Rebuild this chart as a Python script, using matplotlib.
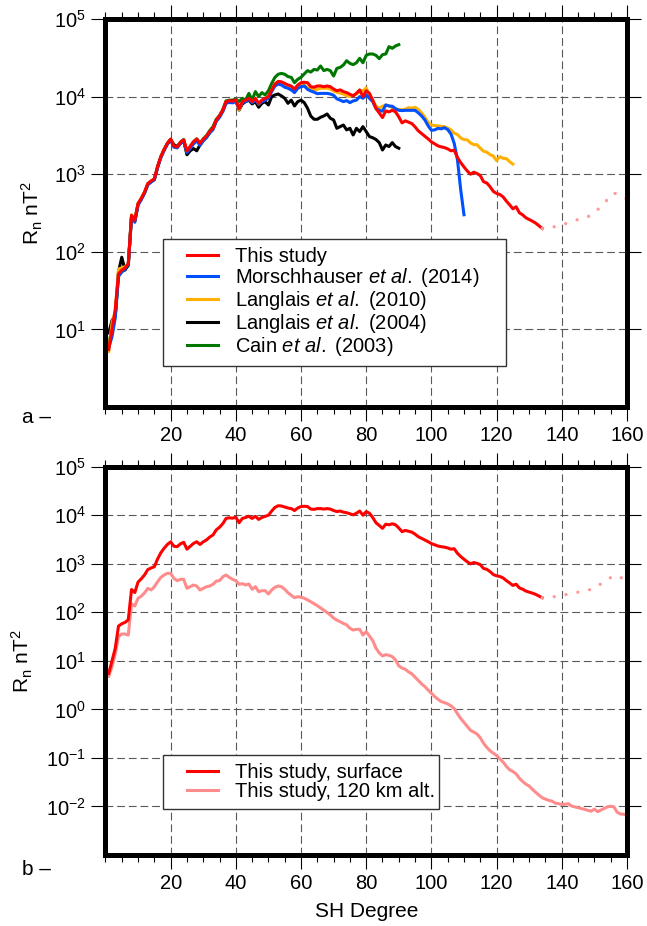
import numpy as np
import matplotlib
matplotlib.use('Agg')
import matplotlib.pyplot as plt
from matplotlib.patches import Rectangle
from matplotlib.lines import Line2D
from matplotlib.ticker import MultipleLocator, NullLocator

plt.rcParams['font.family'] = ['Liberation Sans', 'DejaVu Sans']
plt.rcParams['mathtext.fontset'] = 'custom'
plt.rcParams['mathtext.rm'] = 'Liberation Sans'
plt.rcParams['mathtext.it'] = 'Liberation Sans:italic'

# power spectra R_n (nT^2) per SH degree, starting at degree 1
this_study = [5.5, 10, 18, 52, 58, 62, 70, 295, 255, 420,
              490, 590, 760, 820, 870, 1260, 1690, 2090, 2500, 2830,
              2300, 2250, 2570, 2770, 2000, 2290, 2620, 2840, 2500, 2830,
              3100, 3560, 3920, 5000, 5650, 6700, 8600, 8850, 8700, 9070,
              7000, 8600, 9000, 9500, 8600, 9500, 8200, 9000, 9500, 10000,
              12200, 14500, 15700, 15500, 14800, 14100, 13700, 12500, 14100, 15100,
              15300, 15100, 13400, 13200, 13700, 13700, 13400, 13700, 13400, 12500,
              11900, 12200, 11600, 11250, 10700, 10200, 11000, 12200, 10000, 11900,
              11000, 8980, 7000, 6160, 5370, 6540, 6350, 6670, 6350, 5470,
              4580, 4870, 4680, 4490, 4070, 3610, 3340, 3090, 2850, 2610,
              2460, 2320, 2250, 2200, 2120, 2000, 2040, 1640, 1410, 1240,
              1100, 1000, 1060, 1020, 960, 800, 770, 690, 600, 565,
              547, 510, 450, 403, 358, 380, 318, 299, 274, 261,
              248, 234, 216, 200]

# dotted (unreliable) continuation of this study
ext_deg = [134, 136, 138, 140, 142, 144, 146, 148, 150, 152, 154, 156, 158, 160]
ext_val = [200, 205, 211, 220, 238, 254, 266, 283, 315, 385, 470, 575, 520, 480]

morschhauser = [5.8, 8, 14, 48, 55, 60, 68, 280, 240, 400,
                470, 570, 730, 790, 850, 1220, 1640, 2030, 2430, 2750,
                2230, 2180, 2480, 2650, 1900, 2150, 2450, 2700, 2350, 2700,
                2950, 3400, 3750, 4800, 5400, 6400, 8200, 8400, 8300, 8600,
                7070, 8350, 8600, 9230, 8350, 9000, 8040, 8600, 9000, 9500,
                11600, 13700, 14500, 14100, 13200, 12800, 12200, 11250, 12800, 13400,
                13700, 12400, 11800, 11400, 10900, 11000, 11000, 11000, 10800, 10400,
                9350, 9000, 8600, 8870, 8350, 8800, 9000, 10000, 9500, 10500,
                9500, 8600, 7070, 6650, 6480, 7800, 7570, 7500, 7000, 6650,
                6600, 6650, 6650, 6650, 6650, 6160, 5630, 5000, 4200, 3680,
                3720, 3900, 3840, 3970, 3760, 3300, 2500, 1530, 627, 300]

langlais2010 = [5.2, 12, 17, 60, 62, 64, 70, 300, 260, 420,
                490, 590, 750, 810, 860, 1250, 1680, 2080, 2480, 2800,
                2280, 2220, 2550, 2750, 1950, 2200, 2500, 2800, 2450, 2750,
                3050, 3500, 3850, 4900, 5550, 6600, 8400, 8700, 8600, 9000,
                6800, 8400, 8800, 9300, 8500, 9300, 8000, 8800, 9300, 9800,
                12000, 14500, 15000, 14800, 14100, 13400, 13000, 12000, 13400, 14500,
                14100, 13000, 12500, 12200, 12400, 12800, 12800, 12800, 12500, 11800,
                11400, 11100, 10800, 10200, 10100, 10400, 10800, 11600, 11900, 12900,
                10200, 9000, 7570, 7080, 7500, 7800, 7570, 7200, 6820, 6860,
                6730, 6860, 7200, 7080, 7280, 6820, 6160, 5410, 4670, 4300,
                4230, 4200, 4130, 4100, 3930, 3720, 3380, 3240, 2930, 2790,
                2770, 2530, 2400, 2400, 2160, 1980, 1920, 1790, 1710, 1500,
                1680, 1600, 1590, 1450, 1350]

langlais2004 = [9, 13, 15, 55, 85, 58, 68, 290, 250, 410,
                480, 580, 740, 800, 850, 1240, 1660, 2060, 2480, 2800,
                2400, 2280, 2500, 2700, 1780, 2000, 2140, 2000, 2380, 2700,
                3000, 3450, 3900, 4950, 5600, 6600, 8500, 8700, 8800, 9000,
                6700, 8040, 8600, 9000, 8040, 8600, 7280, 8190, 8600, 7800,
                10000, 10500, 10800, 10200, 9500, 8190, 9000, 7570, 8600, 9000,
                8350, 7070, 5600, 5100, 5100, 5410, 5630, 5970, 5250, 5000,
                3900, 4100, 4300, 3720, 3900, 3200, 3900, 3540, 4100, 3540,
                3050, 2950, 2800, 2550, 2050, 2380, 2270, 2550, 2270, 2160]

cain2003 = [6, 11, 15, 50, 55, 60, 66, 285, 250, 410,
            480, 580, 750, 810, 860, 1250, 1680, 2080, 2500, 2820,
            2300, 2250, 2600, 2800, 1900, 2250, 2600, 2850, 2500, 2850,
            3150, 3650, 4100, 5100, 5700, 6800, 8800, 9000, 9000, 9300,
            8600, 9500, 9000, 11000, 9000, 11600, 10000, 11250, 10500, 11900,
            14800, 17700, 19400, 19900, 19400, 18100, 17700, 15100, 16700, 17700,
            19600, 21600, 20700, 22400, 22000, 24800, 21600, 22400, 21600, 18400,
            23100, 23800, 25500, 29000, 26800, 25800, 27300, 31100, 27300, 34000,
            35400, 35400, 34000, 30800, 34700, 35400, 44000, 41900, 44900, 46700]

alt120 = [4.8, 7.6, 14, 31.6, 35.7, 35.7, 34, 150, 135, 195,
          215, 252, 312, 288, 337, 427, 525, 587, 635, 635,
          500, 449, 478, 478, 312, 337, 365, 348, 288, 312,
          337, 348, 378, 440, 449, 540, 587, 525, 478, 449,
          378, 389, 366, 383, 298, 337, 266, 279, 279, 238,
          288, 327, 348, 337, 298, 253, 224, 200, 210, 205,
          195, 180, 165, 150, 137, 123, 110, 99, 88, 76,
          69, 64, 59, 55, 47, 43, 44.6, 44.6, 34, 40,
          32.4, 26.2, 18.2, 14.6, 12.6, 13.4, 13, 12.2, 10.4, 7.9,
          7.1, 6.7, 5.9, 5.4, 4.6, 3.9, 3.35, 2.95, 2.5, 2.15,
          1.84, 1.62, 1.45, 1.38, 1.30, 1.18, 1.04, 0.81, 0.65, 0.54,
          0.45, 0.37, 0.34, 0.31, 0.26, 0.20, 0.165, 0.14, 0.125, 0.112,
          0.096, 0.082, 0.067, 0.057, 0.0525, 0.047, 0.038, 0.0327, 0.0288, 0.0263,
          0.0225, 0.0195, 0.0171, 0.0151, 0.0142, 0.0133, 0.0129, 0.0117, 0.0114, 0.011,
          0.0111, 0.0114, 0.0102, 0.0098, 0.0094, 0.0090, 0.0087, 0.0083, 0.0080, 0.0088,
          0.0078, 0.0084, 0.0091, 0.0098, 0.0101, 0.0098, 0.0076, 0.0070, 0.0069, 0.0066]

top_labels = ['This study',
              r'Morschhauser $\mathit{et\ al.}$ (2014)',
              r'Langlais $\mathit{et\ al.}$ (2010)',
              r'Langlais $\mathit{et\ al.}$ (2004)',
              r'Cain $\mathit{et\ al.}$ (2003)']
bottom_labels = ['This study, surface', 'This study, 120 km alt.']

RED = '#ff0000'
PINK = '#ff8c8c'
BLUE = '#0050ff'
ORANGE = '#ffb000'
GREEN = '#007800'
LW = 2.2
FS = 15


def degrees(vals):
    return np.arange(1, len(vals) + 1)


def style_axes(ax, ymin, ymax, yticks):
    ax.set_yscale('log')
    ax.set_xlim(0, 160)
    ax.set_ylim(ymin, ymax)
    ax.set_xticks(np.arange(20, 161, 20))
    ax.xaxis.set_minor_locator(MultipleLocator(5))
    ax.set_yticks(yticks)
    ax.yaxis.set_minor_locator(NullLocator())
    ax.tick_params(which='both', direction='out', top=True, right=True,
                   width=0.8, labelsize=14.5)
    ax.tick_params(which='major', length=10, pad=4)
    ax.tick_params(which='minor', length=5)
    for sp in ax.spines.values():
        sp.set_linewidth(3.6)
    ax.grid(True, which='major', color='0.35', lw=0.8, linestyle=(0, (7, 3.5)))
    ax.set_ylabel(r'$\mathregular{R_n\ nT^2}$', fontsize=FS)


fig = plt.figure(figsize=(6.47, 9.26), dpi=100)
ax1 = fig.add_axes([0.163, 0.5605, 0.806, 0.419])
ax2 = fig.add_axes([0.163, 0.0767, 0.806, 0.4193])

# panel a
ax1.plot(degrees(cain2003), cain2003, color=GREEN, lw=LW)
ax1.plot(degrees(langlais2004), langlais2004, color='black', lw=LW)
ax1.plot(degrees(langlais2010), langlais2010, color=ORANGE, lw=LW)
ax1.plot(degrees(morschhauser), morschhauser, color=BLUE, lw=LW)
ax1.plot(degrees(this_study), this_study, color=RED, lw=LW)
ax1.plot(ext_deg, ext_val, color='#ff9999', lw=2.4,
         linestyle=(0, (0.01, 3.6)), dash_capstyle='round')
style_axes(ax1, 1, 1e5, [1e1, 1e2, 1e3, 1e4, 1e5])
ax1.yaxis.set_label_coords(-0.116, 0.5)

# panel b
ax2.plot(degrees(alt120), alt120, color=PINK, lw=LW)
ax2.plot(degrees(this_study), this_study, color=RED, lw=LW)
ax2.plot(ext_deg, ext_val, color='#ff9999', lw=2.4,
         linestyle=(0, (0.01, 3.6)), dash_capstyle='round')
style_axes(ax2, 1e-3, 1e5, [1e-2, 1e-1, 1e0, 1e1, 1e2, 1e3, 1e4, 1e5])
ax2.yaxis.set_label_coords(-0.135, 0.5)
ax2.set_xlabel('SH Degree', fontsize=FS)
ax2.xaxis.set_label_coords(0.5, -0.122)

h1 = [Line2D([], [], color=c, lw=LW) for c in [RED, BLUE, ORANGE, 'black', GREEN]]
leg1 = ax1.legend(h1, top_labels, loc='upper left', bbox_to_anchor=(0.156, 0.413),
                  frameon=False, fontsize=14.5, handlelength=1.55, handletextpad=0.85,
                  labelspacing=0.0, borderpad=0, borderaxespad=0)
h2 = [Line2D([], [], color=c, lw=LW) for c in [RED, PINK]]
leg2 = ax2.legend(h2, bottom_labels, loc='upper left', bbox_to_anchor=(0.156, 0.237),
                  frameon=False, fontsize=14.5, handlelength=1.55, handletextpad=0.85,
                  labelspacing=0.0, borderpad=0, borderaxespad=0)

fig.text(0.034, 0.5486, 'a \u2013', fontsize=FS, va='center')
fig.text(0.034, 0.0605, 'b \u2013', fontsize=FS, va='center')

# boxes around the legends (left pad, right pad in pixels)
fig.canvas.draw()
for ax, leg, rpad in [(ax1, leg1, 26), (ax2, leg2, 4)]:
    bb = leg.get_window_extent()
    box = Rectangle((bb.x0 - 24, bb.y0 - 8), bb.width + 24 + rpad, bb.height + 16,
                    transform=None, facecolor='white', edgecolor='0.2',
                    lw=1.0, zorder=4.5)
    ax.add_artist(box)

fig.savefig('out.png', dpi=100)
